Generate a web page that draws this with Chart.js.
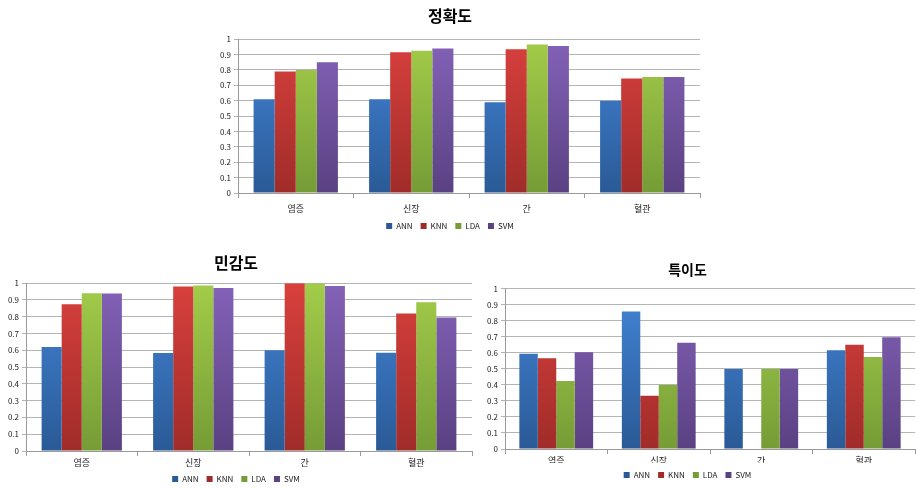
<!DOCTYPE html>
<html><head><meta charset="utf-8">
<script src="https://cdn.jsdelivr.net/npm/chart.js@4"></script>
<style>
html,body{margin:0;padding:0;background:#fff;width:916px;height:488px;overflow:hidden;}
canvas{position:absolute;}
</style></head><body>
<canvas id="c1" width="520" height="240" style="left:200px;top:0px"></canvas>
<canvas id="c2" width="480" height="243" style="left:0px;top:250px"></canvas>
<canvas id="c3" width="456" height="234" style="left:460px;top:255px"></canvas>
<script>
const categories = ['염증', '신장', '간', '혈관'];
const seriesNames = ['ANN', 'KNN', 'LDA', 'SVM'];
const yTicks = [0, 0.1, 0.2, 0.3, 0.4, 0.5, 0.6, 0.7, 0.8, 0.9, 1];

const accuracyANN = [0.61, 0.61, 0.59, 0.60];
const accuracyKNN = [0.79, 0.915, 0.935, 0.745];
const accuracyLDA = [0.80, 0.925, 0.965, 0.755];
const accuracySVM = [0.85, 0.94, 0.955, 0.755];

const sensitivityANN = [0.62, 0.584, 0.60, 0.586];
const sensitivityKNN = [0.874, 0.98, 1.0, 0.82];
const sensitivityLDA = [0.94, 0.986, 1.0, 0.886];
const sensitivitySVM = [0.938, 0.972, 0.984, 0.796];

const specificityANN = [0.594, 0.859, 0.5, 0.617];
const specificityKNN = [0.566, 0.333, 0, 0.65];
const specificityLDA = [0.425, 0.40, 0.5, 0.575];
const specificitySVM = [0.604, 0.663, 0.5, 0.697];

const palette = [
  {top:'#4384d6', bot:'#2a5a96', solid:'#3b74c4'},
  {top:'#d8403d', bot:'#a02c29', solid:'#c23a36'},
  {top:'#a3cc4a', bot:'#759c36', solid:'#92bb44'},
  {top:'#8462b8', bot:'#5a4182', solid:'#7354a0'}
];
const FONT = '"Noto Sans CJK KR", "Noto Sans", sans-serif';

function grad(i){
  return function(ctx){
    const chart = ctx.chart; const a = chart.chartArea;
    if(!a) return palette[i].solid;
    const g = chart.ctx.createLinearGradient(0, a.top, 0, a.bottom);
    g.addColorStop(0, palette[i].top);
    g.addColorStop(1, palette[i].bot);
    return g;
  };
}

function make(id, title, data, cfg){
  const datasets = data.map((d, i) => ({
    label: seriesNames[i], data: d,
    backgroundColor: grad(i), borderWidth: 0,
    barPercentage: 1.0, categoryPercentage: cfg.catPct
  }));
  new Chart(document.getElementById(id), {
    type: 'bar',
    data: {labels: categories, datasets},
    options: {
      responsive: false, animation: false,
      layout: {padding: cfg.pad},
      plugins: {
        title: {display: true, text: title, color: '#000',
          font: {family: FONT, size: cfg.titleSize, weight: 'bold'},
          padding: cfg.titlePad, align: 'center'},
        legend: {position: 'bottom',
          labels: {boxWidth: 6, boxHeight: 6, padding: cfg.legPad, color: '#222',
            font: {family: FONT, size: 8}}},
        tooltip: {enabled: false}
      },
      scales: {
        x: {
          grid: {display: true, offset: true, drawOnChartArea: false, drawTicks: true, tickLength: 5, color: '#9a9a9a'},
          border: {display: true, color: '#9a9a9a'},
          ticks: {color: '#222', font: {family: FONT, size: 9}, padding: cfg.xPad, maxRotation: 0},
          afterFit: s => { s.height = cfg.xH; }
        },
        y: {
          min: 0, max: 1,
          afterBuildTicks: s => { s.ticks = yTicks.map(v => ({value: v})); },
          grid: {color: '#b4b4b4', tickLength: 4, drawTicks: true},
          border: {display: true, color: '#9a9a9a'},
          ticks: {color: '#222', font: {family: FONT, size: 8}, padding: 3,
            callback: v => String(Math.round(v*10)/10)},
          afterFit: s => { s.width = cfg.yW; }
        }
      }
    }
  });
}

make('c1', '정확도', [accuracyANN, accuracyKNN, accuracyLDA, accuracySVM],
  {catPct: 0.73, pad: {left: 0, right: 20, top: 0, bottom: 0}, titleSize: 16,
   titlePad: {top: 6, bottom: 14}, legPad: 8, xPad: 5, xH: 21, yW: 38});
make('c2', '민감도', [sensitivityANN, sensitivityKNN, sensitivityLDA, sensitivitySVM],
  {catPct: 0.72, pad: {left: 0, right: 8, top: 0, bottom: 0}, titleSize: 16,
   titlePad: {top: 3, bottom: 11}, legPad: 8, xPad: 1, xH: 16, yW: 26});
make('c3', '특이도', [specificityANN, specificityKNN, specificityLDA, specificitySVM],
  {catPct: 0.72, pad: {left: 0, right: 1, top: 0, bottom: 0}, titleSize: 14,
   titlePad: {top: 6, bottom: 11}, legPad: 8, xPad: 1, xH: 14, yW: 45});
</script>
</body></html>
